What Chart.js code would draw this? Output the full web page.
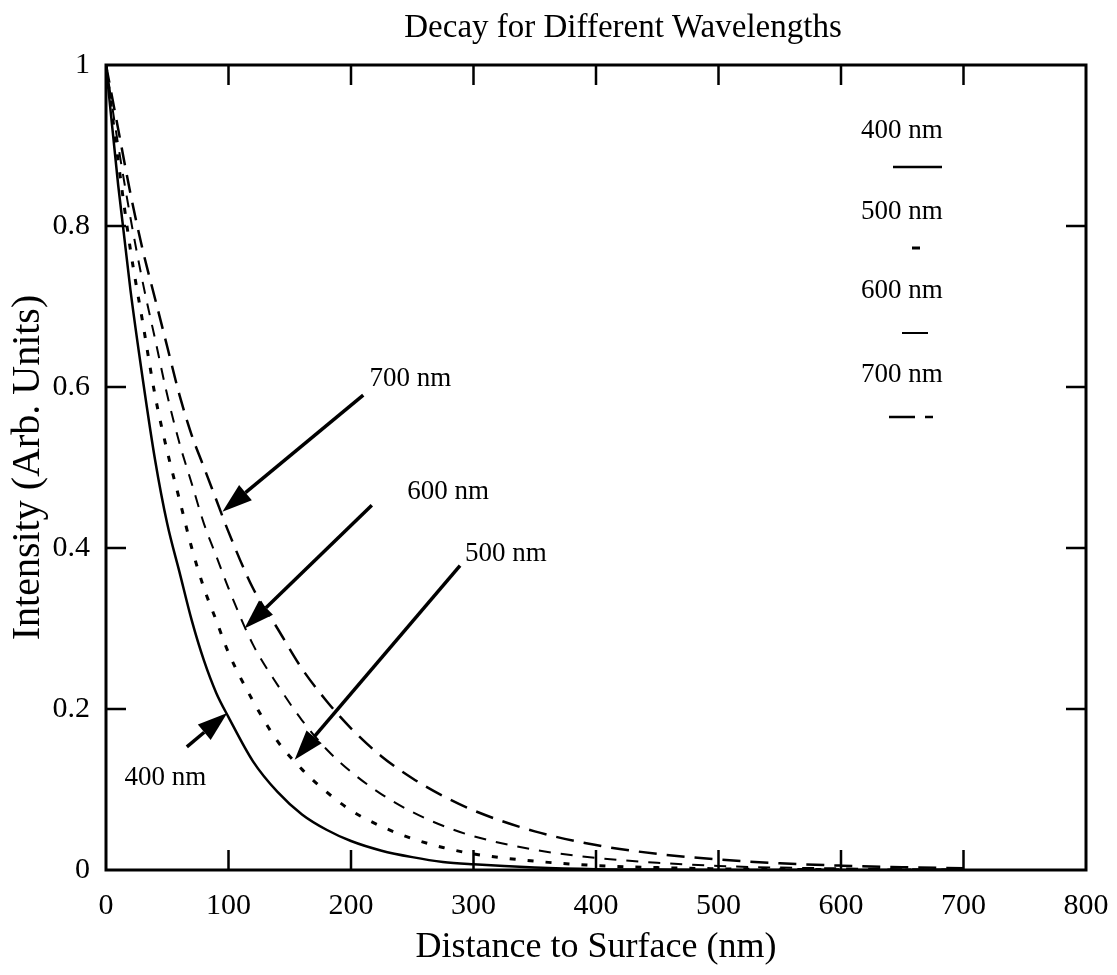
<!DOCTYPE html>
<html>
<head>
<meta charset="utf-8">
<title>Decay for Different Wavelengths</title>
<script src="https://cdn.jsdelivr.net/npm/chart.js@4.4.1/dist/chart.umd.min.js"></script>
<style>
  html, body { margin: 0; padding: 0; background: #fff; }
  #wrap { width: 1117px; height: 975px; }
</style>
</head>
<body>
<div id="wrap"><canvas id="myChart" width="1117" height="975"></canvas></div>
<script>
// Datos (distancia en nm, intensidad en unidades arbitrarias)
const distances = [0, 10, 20, 30, 40, 50, 60, 70, 80, 90, 100, 120, 140, 160, 180, 200, 225, 250, 275, 300, 350, 400, 450, 500, 550, 600, 650, 700];
const i400 = [1.00, 0.85, 0.72, 0.61, 0.51, 0.43, 0.37, 0.31, 0.26, 0.22, 0.19, 0.135, 0.097, 0.069, 0.05, 0.036, 0.024, 0.016, 0.01, 0.007, 0.003, 0.001, 0.0005, 0, 0, 0, 0, 0];
const i500 = [1.00, 0.88, 0.77, 0.68, 0.59, 0.52, 0.46, 0.40, 0.35, 0.31, 0.27, 0.21, 0.16, 0.125, 0.097, 0.074, 0.054, 0.039, 0.028, 0.02, 0.011, 0.0055, 0.003, 0.0015, 0.0008, 0.0004, 0, 0];
const i600 = [1.00, 0.90, 0.81, 0.73, 0.66, 0.59, 0.53, 0.48, 0.43, 0.39, 0.35, 0.28, 0.23, 0.186, 0.15, 0.122, 0.094, 0.072, 0.055, 0.042, 0.025, 0.015, 0.009, 0.005, 0.003, 0.002, 0.001, 0.0006];
const i700 = [1.00, 0.92, 0.84, 0.77, 0.71, 0.65, 0.59, 0.54, 0.50, 0.46, 0.42, 0.35, 0.30, 0.25, 0.21, 0.176, 0.141, 0.114, 0.092, 0.074, 0.048, 0.031, 0.02, 0.013, 0.0084, 0.0054, 0.0035, 0.0023];
const seriesLabels = ['400 nm', '500 nm', '600 nm', '700 nm'];
const xTicks = [0, 100, 200, 300, 400, 500, 600, 700, 800];
const yTicks = [0, 0.2, 0.4, 0.6, 0.8, 1];

// Flechas: [etiqueta, x texto, y texto, x inicio, y inicio, x punta, y punta] en unidades de datos
const arrowNotes = [
    ['700 nm', 215, 0.61, 210, 0.59, 95, 0.445],
    ['600 nm', 246, 0.47, 217, 0.453, 113, 0.30],
    ['500 nm', 293, 0.393, 289, 0.378, 154, 0.137],
    ['400 nm', 15, 0.114, 66, 0.153, 99, 0.195]
];

const serif = "'Liberation Serif', 'DejaVu Serif', serif";

function toPoints(values) {
    return distances.map((d, i) => ({ x: d, y: values[i] }));
}

const datasets = [
    { label: seriesLabels[0], data: toPoints(i400), borderDash: [], legendDash: [], borderWidth: 2.5 },
    { label: seriesLabels[1], data: toPoints(i500), borderDash: [6, 12], legendDash: [], borderWidth: 3 },
    { label: seriesLabels[2], data: toPoints(i600), borderDash: [12, 10], legendDash: [], borderWidth: 2 },
    { label: seriesLabels[3], data: toPoints(i700), borderDash: [18, 10], legendDash: [26, 10], borderWidth: 2.5 }
].map(ds => Object.assign(ds, {
    borderColor: '#000',
    pointRadius: 0,
    fill: false,
    cubicInterpolationMode: 'monotone'
}));

// Caja, marcas hacia dentro, título, leyenda y flechas
const framePlugin = {
    id: 'frame',
    afterDraw(chart) {
        const ctx = chart.ctx;
        const area = chart.chartArea;
        const xs = chart.scales.x;
        const ys = chart.scales.y;
        const tick = 20;

        ctx.save();
        ctx.strokeStyle = '#000';
        ctx.lineWidth = 3;
        ctx.setLineDash([]);
        ctx.strokeRect(area.left, area.top, area.right - area.left, area.bottom - area.top);

        ctx.lineWidth = 2.5;
        ctx.beginPath();
        xTicks.slice(1, -1).forEach(v => {
            const px = xs.getPixelForValue(v);
            ctx.moveTo(px, area.bottom);
            ctx.lineTo(px, area.bottom - tick);
            ctx.moveTo(px, area.top);
            ctx.lineTo(px, area.top + tick);
        });
        yTicks.slice(1, -1).forEach(v => {
            const py = ys.getPixelForValue(v);
            ctx.moveTo(area.left, py);
            ctx.lineTo(area.left + tick, py);
            ctx.moveTo(area.right, py);
            ctx.lineTo(area.right - tick, py);
        });
        ctx.stroke();

        // Título
        ctx.fillStyle = '#000';
        ctx.font = '33px ' + serif;
        ctx.textAlign = 'center';
        ctx.textBaseline = 'middle';
        ctx.fillText('Decay for Different Wavelengths', 623, 28);

        // Leyenda
        const legendText = [131, 212, 291, 375];
        const legendLine = [[893, 942, 167], [912, 920, 248], [902, 928, 333], [889, 933, 417]];
        ctx.font = '27px ' + serif;
        chart.data.datasets.forEach((ds, i) => {
            ctx.fillText(ds.label, 902, legendText[i]);
            ctx.lineWidth = ds.borderWidth;
            ctx.setLineDash(ds.legendDash);
            ctx.beginPath();
            ctx.moveTo(legendLine[i][0], legendLine[i][2]);
            ctx.lineTo(legendLine[i][1], legendLine[i][2]);
            ctx.stroke();
        });
        ctx.setLineDash([]);

        // Flechas con etiquetas
        ctx.textAlign = 'left';
        arrowNotes.forEach(n => {
            const tx = xs.getPixelForValue(n[1]);
            const ty = ys.getPixelForValue(n[2]);
            const x0 = xs.getPixelForValue(n[3]);
            const y0 = ys.getPixelForValue(n[4]);
            const x1 = xs.getPixelForValue(n[5]);
            const y1 = ys.getPixelForValue(n[6]);
            ctx.fillText(n[0], tx, ty);
            drawArrow(ctx, x0, y0, x1, y1);
        });
        ctx.restore();
    }
};

function drawArrow(ctx, x0, y0, x1, y1) {
    const ang = Math.atan2(y1 - y0, x1 - x0);
    const headLen = 30;
    const headHalf = 10;
    const bx = x1 - headLen * Math.cos(ang);
    const by = y1 - headLen * Math.sin(ang);
    ctx.lineWidth = 3.5;
    ctx.beginPath();
    ctx.moveTo(x0, y0);
    ctx.lineTo(bx, by);
    ctx.stroke();
    ctx.beginPath();
    ctx.moveTo(x1, y1);
    ctx.lineTo(bx + headHalf * Math.sin(ang), by - headHalf * Math.cos(ang));
    ctx.lineTo(bx - headHalf * Math.sin(ang), by + headHalf * Math.cos(ang));
    ctx.closePath();
    ctx.fill();
}

const ctx = document.getElementById('myChart').getContext('2d');
new Chart(ctx, {
    type: 'line',
    data: { datasets: datasets },
    options: {
        responsive: false,
        animation: false,
        layout: {
            padding: { top: 65, right: 31, bottom: 0, left: 0 }
        },
        plugins: {
            legend: { display: false },
            tooltip: { enabled: false }
        },
        scales: {
            x: {
                type: 'linear',
                min: 0,
                max: 800,
                afterFit: s => {
                    s.height = 105;
                    s.paddingLeft = 0;
                    s.paddingRight = 0;
                },
                afterBuildTicks: s => { s.ticks = xTicks.map(v => ({ value: v })); },
                grid: { display: false, drawTicks: false },
                border: { display: false },
                ticks: {
                    autoSkip: false,
                    maxRotation: 0,
                    padding: 18,
                    color: '#000',
                    font: { family: serif, size: 30 }
                },
                title: {
                    display: true,
                    text: 'Distance to Surface (nm)',
                    color: '#000',
                    font: { family: serif, size: 36 },
                    padding: { top: 0, bottom: 6 }
                }
            },
            y: {
                type: 'linear',
                min: 0,
                max: 1,
                afterFit: s => { s.width = 106; },
                afterBuildTicks: s => { s.ticks = yTicks.map(v => ({ value: v })); },
                grid: { display: false, drawTicks: false },
                border: { display: false },
                ticks: {
                    padding: 16,
                    color: '#000',
                    font: { family: serif, size: 30 },
                    callback: value => String(value)
                },
                title: {
                    display: true,
                    text: 'Intensity (Arb. Units)',
                    color: '#000',
                    font: { family: serif, size: 40 },
                    padding: { top: 4, bottom: 0 }
                }
            }
        }
    },
    plugins: [framePlugin]
});
</script>
</body>
</html>
